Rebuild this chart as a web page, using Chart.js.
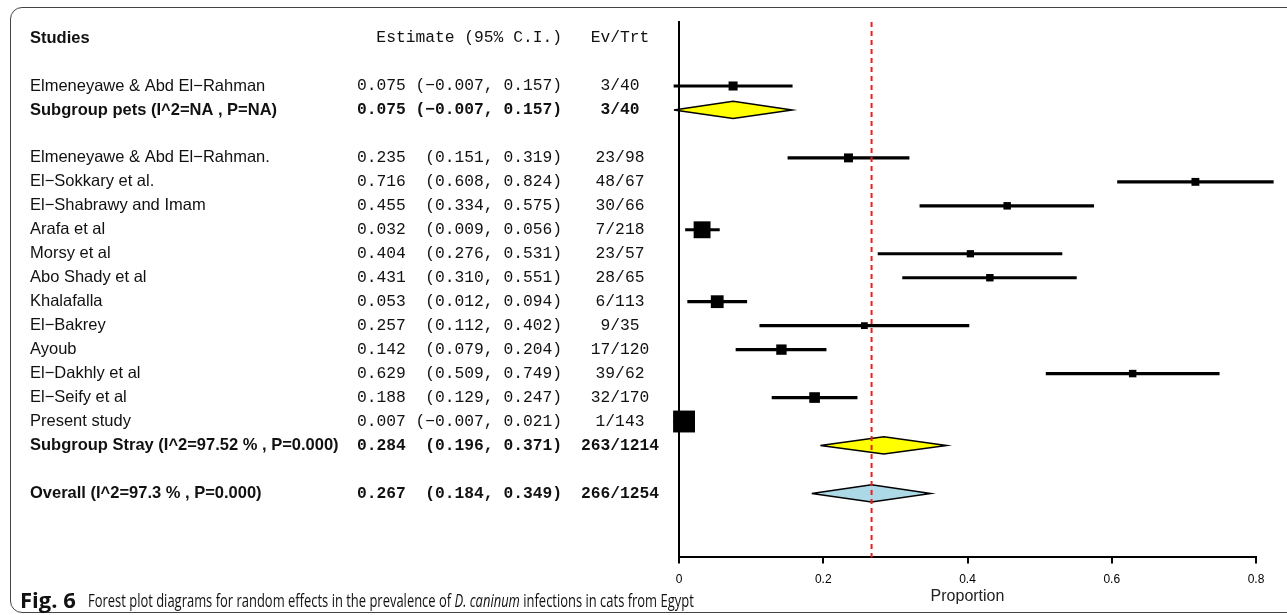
<!DOCTYPE html>
<html>
<head>
<meta charset="utf-8">
<script src="https://cdn.jsdelivr.net/npm/chart.js@4.4.1/dist/chart.umd.min.js"></script>
<style>
  html, body { margin: 0; padding: 0; background: #fff; overflow: hidden; }
  #wrap { position: relative; width: 1287px; height: 615px; }
  #frame { position: absolute; left: 10px; top: 7px; width: 1300px; height: 604px;
    border: 1.5px solid #444; border-radius: 12px; }
  #forest { position: absolute; left: 0; top: 0; }
  .cap { position: absolute; font-family: "Open Sans", sans-serif; color: #111;
    white-space: nowrap; line-height: 18px; transform-origin: left top; }
  #capFig { left: 20px; top: 590px; font-size: 22px; font-weight: bold; }
  #capText { left: 88px; top: 591px; font-size: 19px; transform: scaleX(0.682); }
</style>
</head>
<body>
<div id="wrap">
  <div id="frame"></div>
  <canvas id="forest" width="1287" height="615"></canvas>
  <div class="cap" id="capFig">Fig. 6</div>
  <div class="cap" id="capText">Forest plot diagrams for random effects in the prevalence of <i>D. caninum</i> infections in cats from Egypt</div>
</div>
<script>
var studies = [
  "Elmeneyawe & Abd El−Rahman",
  "Elmeneyawe & Abd El−Rahman.",
  "El−Sokkary et al.",
  "El−Shabrawy and Imam",
  "Arafa et al",
  "Morsy et al",
  "Abo Shady et al",
  "Khalafalla",
  "El−Bakrey",
  "Ayoub",
  "El−Dakhly et al",
  "El−Seify et al",
  "Present study"
]
var studyGroup = ["pets", "stray", "stray", "stray", "stray", "stray", "stray",
  "stray", "stray", "stray", "stray", "stray", "stray"]
var estimate = [0.075, 0.235, 0.716, 0.455, 0.032, 0.404, 0.431, 0.053, 0.257, 0.142, 0.629, 0.188, 0.007]
var lower = [-0.007, 0.151, 0.608, 0.334, 0.009, 0.276, 0.310, 0.012, 0.112, 0.079, 0.509, 0.129, -0.007]
var upper = [0.157, 0.319, 0.824, 0.575, 0.056, 0.531, 0.551, 0.094, 0.402, 0.204, 0.749, 0.247, 0.021]
var events = [3, 23, 48, 30, 7, 23, 28, 6, 9, 17, 39, 32, 1]
var totals = [40, 98, 67, 66, 218, 57, 65, 113, 35, 120, 62, 170, 143]

var groups = ["pets", "stray"]
var groupLabels = ["Subgroup pets (I^2=NA , P=NA)", "Subgroup Stray (I^2=97.52 % , P=0.000)"]
var groupEstimate = [0.075, 0.284]
var groupLower = [-0.007, 0.196]
var groupUpper = [0.157, 0.371]
var groupEvents = [3, 263]
var groupTotals = [40, 1214]

var overallLabel = "Overall (I^2=97.3 % , P=0.000)"
var overallEstimate = [0.267]
var overallLower = [0.184]
var overallUpper = [0.349]
var overallEvents = [266]
var overallTotals = [1254]

var xTicks = [0, 0.2, 0.4, 0.6, 0.8]

// row layout: header, blank, groups with their studies, blank, overall
var rows = []
var r = 2
groups.forEach(function (g, gi) {
  studies.forEach(function (s, i) {
    if (studyGroup[i] === g) rows.push({ y: r++, kind: "study", i: i })
  })
  rows.push({ y: r++, kind: "group", i: gi })
  r++
})
rows.push({ y: r, kind: "overall", i: 0 })

var studyRows = rows.filter(function (row) { return row.kind === "study" })

// box side shrinks with the width of the interval
function boxSide(i) {
  var se = (upper[i] - lower[i]) / 3.92
  return 1.85 / Math.sqrt(se)
}

function diamond(lo, est, hi, y) {
  var h = 0.36
  return [{ x: lo, y: y }, { x: est, y: y - h }, { x: hi, y: y }, { x: est, y: y + h }, { x: lo, y: y }]
}

var datasets = [
  {
    type: "scatter",
    order: 1,
    data: studyRows.map(function (row) { return { x: estimate[row.i], y: row.y } }),
    pointStyle: "rect",
    pointRadius: studyRows.map(function (row) { return boxSide(row.i) / Math.SQRT2 }),
    pointHoverRadius: studyRows.map(function (row) { return boxSide(row.i) / Math.SQRT2 }),
    backgroundColor: "#000",
    borderWidth: 0,
    clip: false
  },
  {
    type: "bar",
    order: 2,
    indexAxis: "y",
    data: studyRows.map(function (row) { return { y: row.y, x: [lower[row.i], upper[row.i]] } }),
    backgroundColor: "#000",
    barThickness: 2.5,
    borderWidth: 0,
    clip: false
  }
]

rows.forEach(function (row) {
  if (row.kind === "study") return
  var g = row.kind === "group"
  datasets.push({
    type: "line",
    order: 1,
    data: g ? diamond(groupLower[row.i], groupEstimate[row.i], groupUpper[row.i], row.y)
            : diamond(overallLower[0], overallEstimate[0], overallUpper[0], row.y),
    fill: "shape",
    backgroundColor: g ? "#ffff00" : "#add8e6",
    borderColor: "#000",
    borderWidth: 1.5,
    tension: 0,
    pointRadius: 0,
    pointHoverRadius: 0,
    clip: false
  })
})

var sansFont = '"Liberation Sans", Arial, sans-serif'
var monoFont = '"Liberation Mono", "Courier New", monospace'

function fmt(v) {
  var s = Math.abs(v).toFixed(3)
  return (v < 0 ? "−" : "") + s
}

var tablePlugin = {
  id: "table",
  afterDraw: function (chart) {
    var ctx = chart.ctx
    var yScale = chart.scales.y
    ctx.save()
    ctx.fillStyle = "#111"
    ctx.textBaseline = "middle"

    var hy = yScale.getPixelForValue(0)
    ctx.font = "bold 16.5px " + sansFont
    ctx.textAlign = "left"
    ctx.fillText("Studies", 30, hy)
    ctx.font = "16.3px " + monoFont
    ctx.textAlign = "right"
    ctx.fillText("Estimate (95% C.I.)", 562, hy)
    ctx.textAlign = "center"
    ctx.fillText("Ev/Trt", 620, hy)

    rows.forEach(function (row) {
      var y = yScale.getPixelForValue(row.y)
      var label, est, lo, hi, ev, n, bold
      if (row.kind === "study") {
        label = studies[row.i]; est = estimate[row.i]; lo = lower[row.i]; hi = upper[row.i]
        ev = events[row.i]; n = totals[row.i]; bold = ""
      } else if (row.kind === "group") {
        label = groupLabels[row.i]; est = groupEstimate[row.i]; lo = groupLower[row.i]; hi = groupUpper[row.i]
        ev = groupEvents[row.i]; n = groupTotals[row.i]; bold = "bold "
      } else {
        label = overallLabel; est = overallEstimate[0]; lo = overallLower[0]; hi = overallUpper[0]
        ev = overallEvents[0]; n = overallTotals[0]; bold = "bold "
      }
      ctx.font = bold + "16.5px " + sansFont
      ctx.textAlign = "left"
      ctx.fillText(label, 30, y)
      ctx.font = bold + "16.3px " + monoFont
      ctx.fillText(fmt(est), 357, y)
      ctx.textAlign = "right"
      ctx.fillText("(" + fmt(lo) + ", " + fmt(hi) + ")", 562, y)
      ctx.textAlign = "center"
      ctx.fillText(ev + "/" + n, 620, y)
    })
    ctx.restore()
  },
  afterDatasetsDraw: function (chart) {
    var ctx = chart.ctx
    var a = chart.chartArea
    var x = chart.scales.x.getPixelForValue(overallEstimate[0])
    ctx.save()
    ctx.strokeStyle = "#ee1c1c"
    ctx.lineWidth = 2
    ctx.setLineDash([5, 4])
    ctx.beginPath()
    ctx.moveTo(x, a.top)
    ctx.lineTo(x, a.bottom)
    ctx.stroke()
    ctx.restore()
  }
}

var forest = new Chart(document.getElementById("forest"), {
  type: "scatter",
  data: { datasets: datasets },
  plugins: [tablePlugin],
  options: {
    responsive: false,
    animation: false,
    events: [],
    layout: { padding: { left: 679, right: 31, top: 22, bottom: 9 } },
    plugins: { legend: { display: false }, tooltip: { enabled: false } },
    scales: {
      x: {
        type: "linear",
        min: 0,
        max: 0.8,
        offset: false,
        afterBuildTicks: function (axis) {
          axis.ticks = xTicks.map(function (v) { return { value: v } })
        },
        ticks: {
          color: "#000",
          padding: 9,
          maxRotation: 0,
          font: { family: sansFont, size: 12 },
          callback: function (v) { return String(v) }
        },
        grid: { drawOnChartArea: false, drawTicks: true, tickLength: 6, color: "#000", lineWidth: 2 },
        border: { display: true, color: "#000", width: 2 },
        title: {
          display: true,
          text: "Proportion",
          color: "#222",
          font: { family: sansFont, size: 16 },
          padding: { top: -9, bottom: 0 }
        }
      },
      y: {
        type: "linear",
        reverse: true,
        offset: false,
        min: -0.67,
        max: 21.67,
        ticks: { display: false },
        grid: { display: false, drawTicks: false, offset: false },
        border: { display: true, color: "#000", width: 2 }
      }
    }
  }
})
</script>
</body>
</html>
